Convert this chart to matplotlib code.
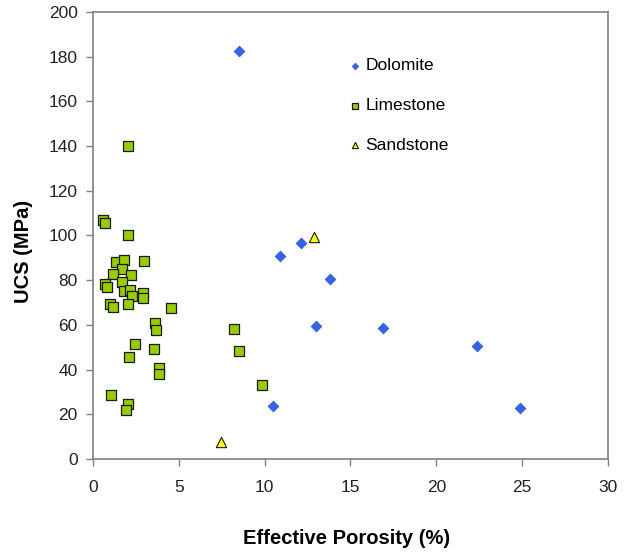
import matplotlib
matplotlib.use("Agg")
import matplotlib.pyplot as plt

plt.rcParams['font.family'] = ['Liberation Sans', 'DejaVu Sans']

dolomite_x = [8.5, 10.9, 12.1, 13.8, 13.0, 16.9, 22.4, 24.9, 10.5]
dolomite_y = [182.5, 90.7, 96.5, 80.6, 59.5, 58.4, 50.4, 22.9, 23.6]

limestone_x = [2.05, 0.6, 0.73, 2.06, 1.32, 1.82, 2.96, 1.71, 1.18, 2.22,
               1.71, 0.69, 0.79, 1.79, 2.16, 2.26, 2.92, 2.94, 0.98, 1.14,
               2.02, 4.55, 3.63, 3.69, 8.22, 2.43, 3.53, 8.51, 2.1, 3.86,
               3.86, 9.82, 1.04, 2.06, 1.92]
limestone_y = [139.9, 106.7, 105.7, 100.0, 88.0, 88.9, 88.7, 85.2, 82.8, 82.4,
               79.1, 78.3, 77.1, 75.2, 75.5, 72.8, 74.3, 72.2, 69.4, 68.0,
               69.5, 67.4, 61.0, 57.5, 58.0, 51.4, 49.0, 48.4, 45.7, 40.8,
               38.1, 32.9, 28.6, 24.8, 22.0]

sandstone_x = [12.86, 7.47]
sandstone_y = [99.2, 7.5]

x_ticks = [0, 5, 10, 15, 20, 25, 30]
y_ticks = [0, 20, 40, 60, 80, 100, 120, 140, 160, 180, 200]

fig = plt.figure(figsize=(6.28, 5.52), dpi=100)
ax = fig.add_axes([0.148, 0.1685, 0.82, 0.81])

ax.scatter(dolomite_x, dolomite_y, marker='D', s=30, color='#3366E6',
           edgecolors='#2850C8', linewidths=0.5, label='Dolomite', zorder=3)
ax.scatter(limestone_x, limestone_y, marker='s', s=60, color='#99CC00',
           edgecolors='#1a1a1a', linewidths=0.9, label='Limestone', zorder=3)
ax.scatter(sandstone_x, sandstone_y, marker='^', s=55, color='#FFFF00',
           edgecolors='#1a1a1a', linewidths=0.8, label='Sandstone', zorder=3)

ax.set_xlim(0, 30)
ax.set_ylim(0, 200)
ax.set_xticks(x_ticks)
ax.set_yticks(y_ticks)
ax.tick_params(direction='out', length=5, width=1, color='#808080',
               labelsize=12.5, labelcolor='#222222', pad=6)
ax.tick_params(axis='x', pad=10)
for sp in ax.spines.values():
    sp.set_color('#808080')
    sp.set_linewidth(1.2)

ax.set_xlabel('Effective Porosity (%)', fontsize=14.5, fontweight='bold')
ax.set_ylabel('UCS (MPa)', fontsize=14.5, fontweight='bold')
ax.xaxis.set_label_coords(0.493, -0.177)
ax.xaxis.label.set_va('center')
ax.yaxis.set_label_coords(-0.134, 0.465)
ax.yaxis.label.set_va('center')

leg = ax.legend(loc='upper left', bbox_to_anchor=(0.479, 0.912), frameon=False,
                fontsize=12.5, labelspacing=1.42, handletextpad=0.1,
                handlelength=1.0, markerscale=0.6, borderaxespad=0)

fig.savefig('out.png', dpi=100)
